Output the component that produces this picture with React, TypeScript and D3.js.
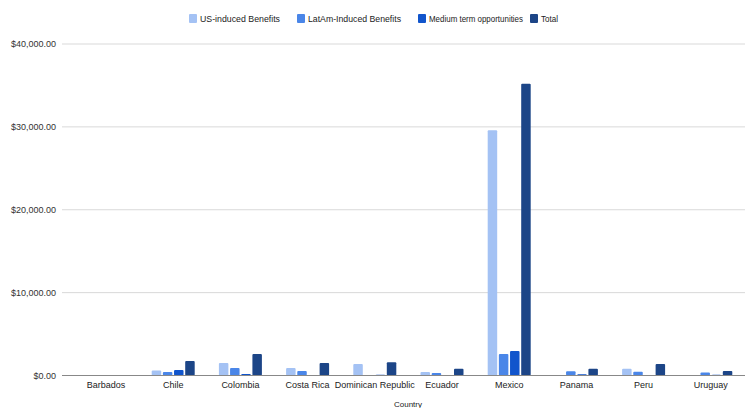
import React from "react";
import * as d3 from "d3";

const countries = [
  "Barbados",
  "Chile",
  "Colombia",
  "Costa Rica",
  "Dominican Republic",
  "Ecuador",
  "Mexico",
  "Panama",
  "Peru",
  "Uruguay",
];

const seriesNames = [
  "US-induced Benefits",
  "LatAm-Induced Benefits",
  "Medium term opportunities",
  "Total",
];

const usInduced = [0, 600, 1500, 900, 1380, 420, 29600, 30, 800, 0];
const latamInduced = [0, 430, 900, 550, 60, 300, 2600, 500, 450, 350];
const mediumTerm = [0, 650, 180, 60, 100, 0, 2950, 150, 50, 80];
const total = [0, 1750, 2600, 1500, 1600, 800, 35200, 800, 1400, 550];

const yTicks = [0, 10000, 20000, 30000, 40000];

const colors = ["#a4c2f4", "#4a86e8", "#1155cc", "#1c4587"];

const W = 747;
const H = 408;
const plotLeft = 62;
const plotRight = 745;
const bandLeft = 72.4;
const bandRight = 744.4;
const y0 = 375.5;
const yTop = 44;

// legend layout: swatch x and label width
const legendX = [189, 297, 418, 530];
const legendTextW = [80, 93, 94, 17];

export default function App() {
  const series = [usInduced, latamInduced, mediumTerm, total];
  const x = d3.scaleBand<string>().domain(countries).range([bandLeft, bandRight]).paddingInner(0).paddingOuter(0);
  const y = d3.scaleLinear().domain([0, 40000]).range([y0, yTop]);
  const groupW = 43;
  const inner = d3
    .scaleBand<number>()
    .domain([0, 1, 2, 3])
    .range([0, groupW])
    .paddingInner(0.15);
  const fmt = d3.format("$,.2f");
  const font = "'Liberation Sans', Arial, sans-serif";

  return (
    <svg
      width={W}
      height={H}
      style={{ position: "absolute", left: 0, top: 0, background: "#fff" }}
      fontFamily={font}
    >
      {/* legend */}
      {seriesNames.map((name, i) => (
        <g key={name} transform={`translate(${legendX[i]},14)`}>
          <rect x={0} y={0} width={8} height={9} fill={colors[i]} rx={1} />
          <text
            x={11}
            y={8}
            fontSize={9}
            fill="#222"
            textLength={legendTextW[i]}
            lengthAdjust="spacingAndGlyphs"
          >
            {name}
          </text>
        </g>
      ))}

      {/* gridlines and y labels */}
      {yTicks.map((t) => (
        <g key={t}>
          <line
            x1={plotLeft}
            x2={plotRight}
            y1={y(t)}
            y2={y(t)}
            stroke={t === 0 ? "#888" : "#d9d9d9"}
            strokeWidth={1}
          />
          <text x={56} y={y(t) + 3} fontSize={9} textAnchor="end" fill="#333">
            {fmt(t)}
          </text>
        </g>
      ))}

      {/* bars */}
      {countries.map((c, ci) => {
        const gx = (x(c) as number) + (x.bandwidth() - groupW) / 2;
        return (
          <g key={c}>
            {series.map((s, si) => {
              const v = s[ci];
              const top = y(v);
              return (
                <rect
                  key={si}
                  x={gx + (inner(si) as number)}
                  y={top}
                  width={inner.bandwidth()}
                  height={Math.max(0, y0 - top)}
                  fill={colors[si]}
                  rx={1}
                />
              );
            })}
            <text
              x={(x(c) as number) + x.bandwidth() / 2}
              y={388}
              fontSize={9}
              textAnchor="middle"
              fill="#222"
            >
              {c}
            </text>
          </g>
        );
      })}

      {/* zero axis on top of bars */}
      <line x1={plotLeft} x2={plotRight} y1={y0} y2={y0} stroke="#888" strokeWidth={1} />

      <text x={408} y={407} fontSize={8} textAnchor="middle" fill="#222">
        Country
      </text>
    </svg>
  );
}
